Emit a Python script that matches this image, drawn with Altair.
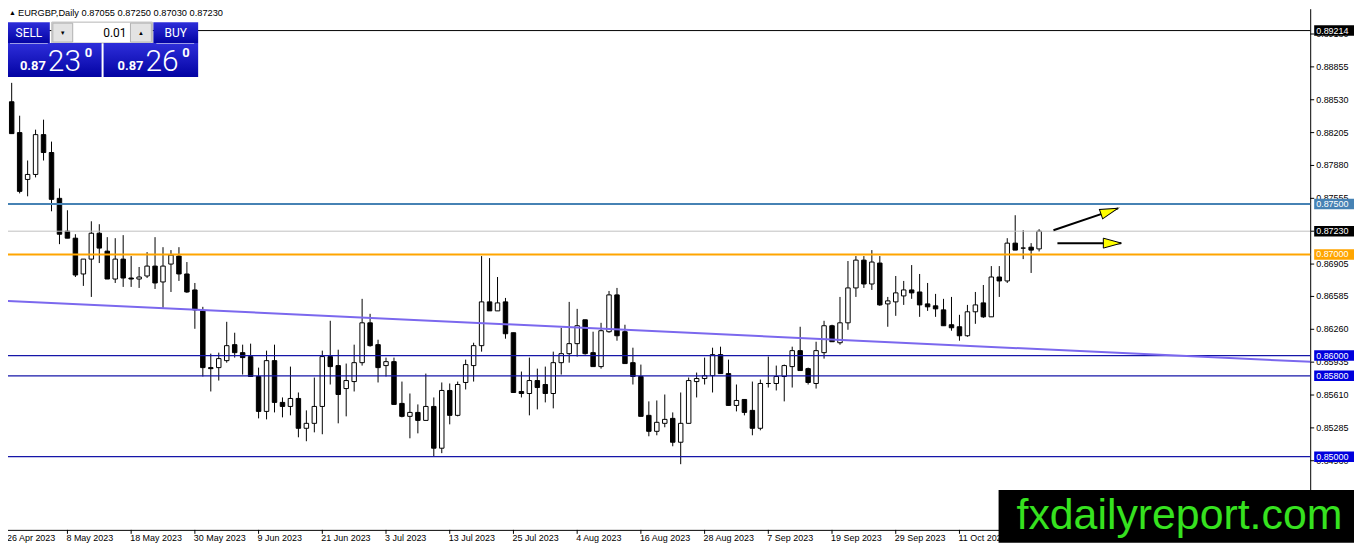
import altair as alt
import pandas as pd

# ---------------- data ----------------
header_text = "EURGBP,Daily  0.87055 0.87250 0.87030 0.87230"

label_idx = list(range(0, 121, 8))
label_text = ["26 Apr 2023", "8 May 2023", "18 May 2023", "30 May 2023", "9 Jun 2023",
              "21 Jun 2023", "3 Jul 2023", "13 Jul 2023", "25 Jul 2023", "4 Aug 2023",
              "16 Aug 2023", "28 Aug 2023", "7 Sep 2023", "19 Sep 2023", "29 Sep 2023",
              "11 Oct 2023"]

opens = [0.88382, 0.88510, 0.88205, 0.87742, 0.87791, 0.88185, 0.88008, 0.87555, 0.87230, 0.87161,
         0.86807, 0.86954, 0.87210, 0.87033, 0.86757, 0.86954, 0.86767, 0.86757, 0.86787, 0.86885,
         0.86728, 0.86905, 0.86984, 0.86807, 0.86649, 0.86442, 0.85881, 0.85881, 0.85950, 0.86108,
         0.86029, 0.85990, 0.85793, 0.85448, 0.85950, 0.85537, 0.85497, 0.85576, 0.85281, 0.85330,
         0.85497, 0.85990, 0.85901, 0.85674, 0.85743, 0.85930, 0.86324, 0.86108, 0.85901, 0.85940,
         0.85527, 0.85399, 0.85438, 0.85359, 0.85497, 0.85084, 0.85655, 0.85409, 0.85734, 0.85901,
         0.86098, 0.86531, 0.86442, 0.86531, 0.86226, 0.85645, 0.85625, 0.85753, 0.85714, 0.85625,
         0.85930, 0.86019, 0.86118, 0.86354, 0.86029, 0.85891, 0.86236, 0.86600, 0.86236, 0.85930,
         0.85793, 0.85409, 0.85251, 0.85330, 0.85379, 0.85143, 0.85330, 0.85743, 0.85773, 0.85802,
         0.86009, 0.85822, 0.85507, 0.85566, 0.85458, 0.85281, 0.85724, 0.85724, 0.85793, 0.85891,
         0.86049, 0.85871, 0.85724, 0.86029, 0.86295, 0.86127, 0.86324, 0.86669, 0.86944, 0.86708,
         0.86915, 0.86511, 0.86531, 0.86590, 0.86649, 0.86629, 0.86511, 0.86492, 0.86452, 0.86305,
         0.86285, 0.86196, 0.86433, 0.86521, 0.86383, 0.86777, 0.86738, 0.87112, 0.87063, 0.87072,
         0.87055]
highs = [0.88717, 0.88697, 0.88372, 0.87929, 0.88234, 0.88333, 0.88116, 0.87653, 0.87437, 0.87200,
         0.86954, 0.87328, 0.87299, 0.87171, 0.87161, 0.87191, 0.86984, 0.86876, 0.87023, 0.87171,
         0.87072, 0.87043, 0.87072, 0.86925, 0.86718, 0.86482, 0.86019, 0.86029, 0.86334, 0.86226,
         0.86108, 0.86118, 0.85881, 0.86049, 0.86108, 0.85586, 0.85891, 0.85635, 0.85458, 0.85783,
         0.86049, 0.86344, 0.86058, 0.85921, 0.86108, 0.86561, 0.86413, 0.86157, 0.85980, 0.85980,
         0.85743, 0.85625, 0.85517, 0.85822, 0.85586, 0.85734, 0.85724, 0.85743, 0.85960, 0.86127,
         0.86984, 0.86964, 0.86777, 0.86570, 0.86226, 0.85842, 0.85980, 0.85871, 0.85891, 0.86039,
         0.86275, 0.86531, 0.86462, 0.86354, 0.86236, 0.86324, 0.86639, 0.86669, 0.86305, 0.86078,
         0.85911, 0.85547, 0.85556, 0.85615, 0.85438, 0.85635, 0.85783, 0.85832, 0.85980, 0.86078,
         0.86088, 0.85960, 0.85714, 0.85566, 0.85743, 0.85763, 0.85990, 0.85901, 0.85911, 0.86088,
         0.86285, 0.85881, 0.86137, 0.86344, 0.86305, 0.86580, 0.86935, 0.86984, 0.86984, 0.87043,
         0.86984, 0.86580, 0.86787, 0.86738, 0.86895, 0.86807, 0.86718, 0.86610, 0.86561, 0.86580,
         0.86403, 0.86501, 0.86629, 0.86698, 0.86885, 0.86885, 0.87161, 0.87388, 0.87240, 0.87112,
         0.87250]
lows = [0.88352, 0.88195, 0.87604, 0.87575, 0.87762, 0.87929, 0.87427, 0.87102, 0.87161, 0.86777,
        0.86689, 0.86580, 0.86915, 0.86757, 0.86718, 0.86679, 0.86679, 0.86669, 0.86767, 0.86659,
        0.86472, 0.86629, 0.86738, 0.86620, 0.86265, 0.85793, 0.85645, 0.85753, 0.85930, 0.85980,
        0.85812, 0.85793, 0.85379, 0.85369, 0.85438, 0.85389, 0.85409, 0.85192, 0.85153, 0.85241,
        0.85222, 0.85714, 0.85330, 0.85399, 0.85645, 0.85901, 0.86088, 0.85734, 0.85793, 0.85517,
        0.85389, 0.85182, 0.85231, 0.85359, 0.85005, 0.85035, 0.85320, 0.85399, 0.85665, 0.85743,
        0.86039, 0.86442, 0.86442, 0.86167, 0.85635, 0.85586, 0.85409, 0.85468, 0.85537, 0.85478,
        0.85812, 0.85930, 0.85990, 0.86009, 0.85891, 0.85871, 0.86226, 0.86147, 0.85921, 0.85714,
        0.85399, 0.85202, 0.85212, 0.85291, 0.85103, 0.84926, 0.85330, 0.85586, 0.85714, 0.85635,
        0.85822, 0.85507, 0.85448, 0.85409, 0.85212, 0.85261, 0.85684, 0.85655, 0.85547, 0.85684,
        0.85852, 0.85714, 0.85674, 0.85970, 0.86137, 0.86108, 0.86255, 0.86580, 0.86669, 0.86649,
        0.86492, 0.86285, 0.86393, 0.86501, 0.86561, 0.86383, 0.86442, 0.86383, 0.86295, 0.86246,
        0.86147, 0.86186, 0.86314, 0.86373, 0.86383, 0.86580, 0.86718, 0.87043, 0.86954, 0.86817,
        0.87030]
closes = [0.88500, 0.88195, 0.87624, 0.87791, 0.88185, 0.88008, 0.87545, 0.87200, 0.87161, 0.86797,
          0.86954, 0.87210, 0.87063, 0.86757, 0.86954, 0.86767, 0.86757, 0.86777, 0.86885, 0.86718,
          0.86885, 0.86994, 0.86807, 0.86629, 0.86452, 0.85881, 0.85871, 0.85970, 0.86098, 0.86029,
          0.85980, 0.85793, 0.85448, 0.85950, 0.85537, 0.85497, 0.85576, 0.85281, 0.85330, 0.85497,
          0.85990, 0.85891, 0.85615, 0.85753, 0.85930, 0.86324, 0.86098, 0.85881, 0.85940, 0.85517,
          0.85399, 0.85438, 0.85359, 0.85497, 0.85084, 0.85655, 0.85409, 0.85714, 0.85911, 0.86098,
          0.86531, 0.86442, 0.86521, 0.86216, 0.85635, 0.85625, 0.85753, 0.85684, 0.85625, 0.85930,
          0.86019, 0.86118, 0.86295, 0.86019, 0.85891, 0.86246, 0.86600, 0.86196, 0.85921, 0.85793,
          0.85399, 0.85251, 0.85340, 0.85369, 0.85143, 0.85330, 0.85753, 0.85773, 0.85802, 0.86009,
          0.85822, 0.85507, 0.85556, 0.85438, 0.85281, 0.85724, 0.85724, 0.85793, 0.85901, 0.86049,
          0.85852, 0.85734, 0.86049, 0.86295, 0.86137, 0.86324, 0.86669, 0.86944, 0.86708, 0.86925,
          0.86501, 0.86541, 0.86620, 0.86649, 0.86620, 0.86501, 0.86482, 0.86462, 0.86295, 0.86275,
          0.86196, 0.86433, 0.86501, 0.86383, 0.86777, 0.86738, 0.87112, 0.87043, 0.87063, 0.87043,
          0.87230]

levels = [0.89214, 0.87500, 0.87230, 0.87000, 0.86000, 0.85800, 0.85000]
trend_idx = [-1, 165]
trend_price = [0.86545, 0.85935]

arrow_x0 = [131.8, 132.3]
arrow_y0 = [0.87240, 0.87112]
arrow_x1 = [139.9, 140.3]
arrow_y1 = [0.87456, 0.87112]
head_x = [138.85, 139.2]
head_y = [0.87428, 0.87112]
head_angle = [341, 0]

y_ticks = [0.89180, 0.88855, 0.88530, 0.88205, 0.87880, 0.87555, 0.87230, 0.86905,
           0.86585, 0.86260, 0.85935, 0.85610, 0.85285, 0.84960]

# ---------------- styles ----------------
LEVEL_STYLE = [  # (line colour, line width, box colour)
    ("#000000", 1.0, "#000000"),
    ("#4682B4", 2.0, "#4682B4"),
    ("#C0C0C0", 1.0, "#000000"),
    ("#FFA500", 2.0, "#FFA500"),
    ("#1616A8", 1.3, "#0000DD"),
    ("#1616A8", 1.3, "#0000DD"),
    ("#1616A8", 1.3, "#0000DD"),
]
W, H = 1308, 523
FONT = "Liberation Sans"
BLUE = {"gradient": "linear", "x1": 0, "y1": 0, "x2": 0, "y2": 1,
        "stops": [{"offset": 0, "color": "#2E2EDA"}, {"offset": 1, "color": "#0303A3"}]}

xscale = alt.Scale(domain=[0.5375, 164.0375], nice=False, zero=False)
yscale = alt.Scale(domain=[0.842765, 0.894254], nice=False, zero=False)


def X(field):
    return alt.X(field, scale=xscale, axis=None)


def Y(field):
    return alt.Y(field, scale=yscale, axis=None)


cdf = pd.DataFrame({"idx": list(range(len(opens))), "open": opens, "high": highs,
                    "low": lows, "close": closes})
one = pd.DataFrame({"a": [0]})


def box(x0, x1, y0, y1, **kw):
    return alt.Chart(one).mark_rect(**kw).encode(
        x=alt.value(x0), x2=alt.value(x1), y=alt.value(y0), y2=alt.value(y1))


def label(txt, x, y, **kw):
    return alt.Chart(one).mark_text(text=txt, **kw).encode(x=alt.value(x), y=alt.value(y))


layers = []

# axes (drawn with the shared scales)
tdf = pd.DataFrame({"p": y_ticks})
xdf = pd.DataFrame({"i": label_idx, "t": label_text})
layers += [
    alt.Chart(one).mark_rule(color="black", strokeWidth=1).encode(
        x=alt.value(W + 0.5), y=alt.value(0), y2=alt.value(H + 0.5)),
    alt.Chart(one).mark_rule(color="black", strokeWidth=1).encode(
        x=alt.value(0), x2=alt.value(W + 0.5), y=alt.value(H + 0.5)),
    alt.Chart(tdf).mark_rule(color="black", strokeWidth=1).encode(
        y=Y("p:Q"), x=alt.value(W), x2=alt.value(W + 4)),
    alt.Chart(tdf).mark_text(align="left", baseline="middle", font=FONT, fontSize=9,
                             color="black").encode(
        y=Y("p:Q"), x=alt.value(W + 6), text=alt.Text("p:Q", format=".5f")),
    alt.Chart(xdf).transform_filter("datum.i > 0.5375").mark_rule(
        color="black", strokeWidth=1).encode(
        x=X("i:Q"), y=alt.value(H), y2=alt.value(H + 4)),
    alt.Chart(xdf).transform_calculate(xi="max(datum.i, 0.5375)").mark_text(
        align="left", baseline="alphabetic", font=FONT, fontSize=9, color="black",
        dx=-1).encode(x=X("xi:Q"), y=alt.value(534), text="t:N"),
]

wicks = alt.Chart(cdf).mark_rule(color="black", strokeWidth=1).encode(
    x=X("idx:Q"), y=Y("low:Q"), y2="high:Q")
layers.append(wicks)

bodies = alt.Chart(cdf).transform_calculate(
    x0="datum.idx - 0.28", x1="datum.idx + 0.28",
    dir="datum.close >= datum.open ? 'up' : 'down'",
).mark_rect(stroke="black", strokeWidth=1).encode(
    x=X("x0:Q"), x2="x1:Q", y=Y("open:Q"), y2="close:Q",
    fill=alt.Fill("dir:N", scale=alt.Scale(domain=["up", "down"], range=["white", "black"]),
                  legend=None),
)
layers.append(bodies)

for lvl, (lc, lw, bc) in zip(levels, LEVEL_STYLE):
    layers.append(alt.Chart(pd.DataFrame({"p": [lvl]})).mark_rule(color=lc, strokeWidth=lw).encode(
        y=Y("p:Q"), x=alt.value(0), x2=alt.value(W)))

trend = alt.Chart(pd.DataFrame({"i": trend_idx, "p": trend_price})).mark_line(
    color="#7B68EE", strokeWidth=2, clip=True).encode(x=X("i:Q"), y=Y("p:Q"))
layers.append(trend)

adf = pd.DataFrame({"x0": arrow_x0, "y0": arrow_y0, "x1": arrow_x1, "y1": arrow_y1,
                    "hx": head_x, "hy": head_y, "ang": head_angle})
layers.append(alt.Chart(adf).mark_rule(color="black", strokeWidth=2).encode(
    x=X("x0:Q"), x2="x1:Q", y=Y("y0:Q"), y2="y1:Q"))
layers.append(alt.Chart(adf).mark_point(
    shape="M1,0L-1,-0.55L-1,0.55Z", size=330, filled=True, fill="#FFFF00",
    stroke="black", strokeWidth=1, opacity=1).encode(
    x=X("hx:Q"), y=Y("hy:Q"), angle=alt.Angle("ang:Q", scale=None)))

# price boxes on right axis
for lvl, (lc, lw, bc) in zip(levels, LEVEL_STYLE):
    bdf = pd.DataFrame({"p": [lvl]})
    layers.append(alt.Chart(bdf).transform_calculate(
        lo="datum.p - 0.00052", hi="datum.p + 0.00052").mark_rect(fill=bc).encode(
        y=Y("lo:Q"), y2="hi:Q", x=alt.value(W + 4), x2=alt.value(W + 44)))
    layers.append(alt.Chart(bdf).mark_text(
        align="left", baseline="middle", font=FONT, fontSize=9, color="white").encode(
        y=Y("p:Q"), x=alt.value(W + 6), text=alt.Text("p:Q", format=".5f")))

# header + trade panel
layers += [
    label("▲", 1, 4, fontSize=7, color="black", align="left", baseline="middle", font=FONT),
    label(header_text, 10, 4, fontSize=9.3, color="black", align="left", baseline="middle",
          font=FONT),
    box(0, 42, 13, 34, fill=BLUE),
    box(44, 145, 13, 34, fill="white", stroke="#B4B4B4", strokeWidth=1),
    box(45, 65, 14, 33, fill="#E3E3E3", stroke="#B0B0B0", strokeWidth=1),
    box(123, 144, 14, 33, fill="#E3E3E3", stroke="#B0B0B0", strokeWidth=1),
    box(146, 191, 13, 34, fill=BLUE),
    box(0, 94, 34, 68, fill=BLUE),
    box(96, 191, 34, 68, fill=BLUE),
    box(2, 40, 34, 35, fill="#9C9CE6"),
    box(149, 187, 34, 35, fill="#9C9CE6"),
    label("SELL", 21, 24, fontSize=12, color="white", align="center", baseline="middle",
          font="Roboto"),
    label("BUY", 168.5, 24, fontSize=12, color="white", align="center", baseline="middle",
          font="Roboto"),
    label("0.01", 119, 24, fontSize=12, color="black", align="right", baseline="middle",
          font="Roboto"),
    label("▼", 55, 24, fontSize=6, color="black", align="center", baseline="middle", font=FONT),
    label("▲", 133.5, 24, fontSize=6, color="black", align="center", baseline="middle",
          font=FONT),
    label("0.87", 12, 61, fontSize=13, fontWeight="bold", color="white", align="left",
          baseline="alphabetic", font="Roboto"),
    label("23", 40, 62, fontSize=30, fontWeight=300, color="white", align="left",
          baseline="alphabetic", font="Roboto"),
    label("0", 77, 48, fontSize=13, fontWeight="bold", color="white", align="left",
          baseline="alphabetic", font="Roboto"),
    label("0.87", 110, 61, fontSize=13, fontWeight="bold", color="white", align="left",
          baseline="alphabetic", font="Roboto"),
    label("26", 138, 62, fontSize=30, fontWeight=300, color="white", align="left",
          baseline="alphabetic", font="Roboto"),
    label("0", 175, 48, fontSize=13, fontWeight="bold", color="white", align="left",
          baseline="alphabetic", font="Roboto"),
]

# watermark
layers += [
    box(995, 1352, 483, 536, fill="black"),
    label("fxdailyreport.com", 1013, 522, fontSize=43, color="#36E21F", align="left",
          baseline="alphabetic", font=FONT),
]

chart = alt.layer(*layers).properties(
    width=W, height=H,
    autosize=alt.AutoSizeParams(type="none"),
    padding={"left": 0, "top": 0, "right": 44, "bottom": 13},
    background="white",
).configure_view(strokeWidth=0)

chart.save("out.html", embed_options={"renderer": "svg", "actions": False})
